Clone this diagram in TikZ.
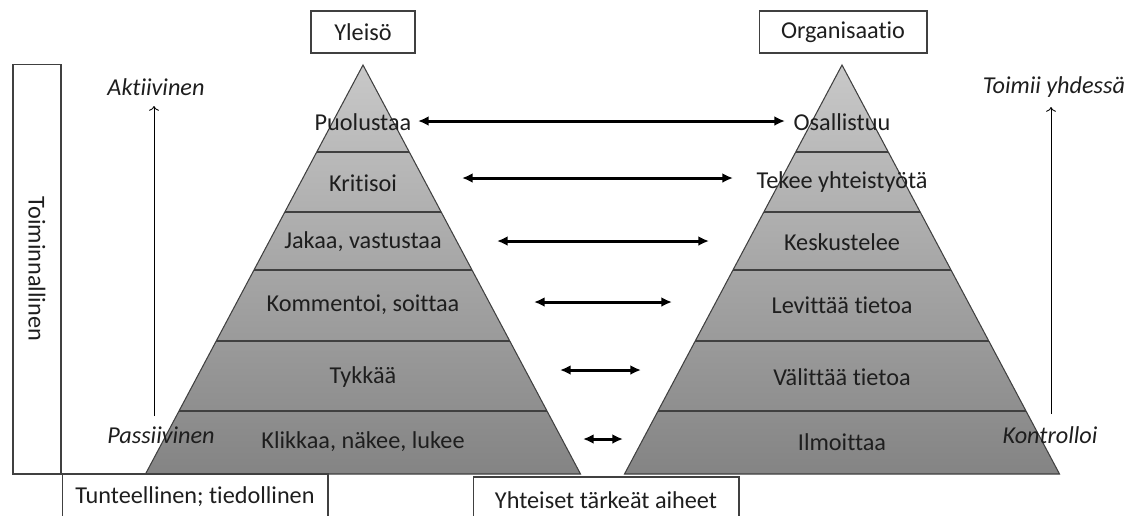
\documentclass[tikz,border=0pt]{standalone}
\usepackage{fontspec}
\setmainfont{Carlito}[RawFeature=-liga]
\usetikzlibrary{arrows.meta,calc}
\definecolor{pyrtop}{RGB}{200,200,200}
\definecolor{pyrbot}{RGB}{132,132,132}
\definecolor{edgegray}{RGB}{64,64,64}
\definecolor{txtgray}{RGB}{30,30,30}

\begin{document}
\begin{tikzpicture}[x=0.02cm,y=-0.02cm,
  lbl/.style={font=\fontsize{13.8}{16}\selectfont,text=txtgray},
  side/.style={text=txtgray,font=\fontsize{13.8}{16}\selectfont\itshape},
  box/.style={draw=edgegray,lbl,line width=0.6pt,inner sep=0pt},
  link/.style={{Latex[length=6pt,width=5.5pt]}-{Latex[length=6pt,width=5.5pt]},line width=1.7pt},
  rise/.style={->,line width=0.5pt}]
\useasboundingbox (0,0) rectangle (1131,515);
\clip (0,0) rectangle (1131,515);

% the two pyramids
\foreach \c/\p in {363/L,842/R}{
  \coordinate (\p-top) at (\c,65);
  \coordinate (\p-bl) at (\c-217.5,474);
  \coordinate (\p-br) at (\c+217.5,474);
  \shade[top color=pyrtop,bottom color=pyrbot] (\p-top) -- (\p-br) -- (\p-bl) -- cycle;
  \foreach \f in {0.2127,0.3594,0.5012,0.6748,0.8460}
    \draw[edgegray,line width=0.6pt] ($(\p-top)!\f!(\p-bl)$) -- ($(\p-top)!\f!(\p-br)$);
  \draw[edgegray,line width=0.6pt] (\p-top) -- (\p-br) -- (\p-bl) -- cycle;
}

% audience levels
\node[lbl] (L1) at (363,122) {Puolustaa};
\node[lbl] (L2) at (363,183) {Kritisoi};
\node[lbl] (L3) at (363,242) {Jakaa, vastustaa};
\node[lbl] (L4) at (363,305) {Kommentoi, soittaa};
\node[lbl] (L5) at (363,377) {Tykkää};
\node[lbl] (L6) at (363,442) {Klikkaa, näkee, lukee};

% organisation levels
\node[lbl] (R1) at (842,122) {Osallistuu};
\node[lbl] (R2) at (842,182) {Tekee yhteistyötä};
\node[lbl] (R3) at (842,242) {Keskustelee};
\node[lbl] (R4) at (842,305) {Levittää tietoa};
\node[lbl] (R5) at (842,377) {Välittää tietoa};
\node[lbl] (R6) at (842,442) {Ilmoittaa};

% two-way arrows
\foreach \i/\xa/\xb/\y in {1/418/785/121,2/462/733/178,3/497/709/241,4/534/672/302,5/560/641/370,6/583/623/439}{
  \coordinate (a\i w) at (\xa,\y);
  \coordinate (a\i e) at (\xb,\y);
  \draw[link] (a\i w) -- (a\i e);
}

% boxes
\node[box,minimum width=2.08cm,minimum height=0.84cm] (yleiso) at (363,32) {Yleisö};
\node[box,minimum width=3.36cm,minimum height=0.84cm] (org) at (843,32) {Organisaatio};
\node[box,rotate=-90,minimum width=8.2cm,minimum height=0.96cm] (toim) at (37,269) {Toiminnallinen};
\node[box,minimum width=5.32cm,minimum height=0.92cm] (tunt) at (195,497) {Tunteellinen; tiedollinen};
\node[box,minimum width=5.32cm,minimum height=0.92cm] (yht) at (606,500) {Yhteiset tärkeät aiheet};

% side scales
\node[side] (akt) at (156,87) {Aktiivinen};
\node[side] (pas) at (161,435) {Passiivinen};
\node[side] (toy) at (1054,87) {Toimii yhdessä};
\node[side] (kon) at (1050,435) {Kontrolloi};
\coordinate (ls) at (154,416);
\coordinate (le) at (154,106);
\coordinate (rs) at (1051,414);
\coordinate (re) at (1051,107);
\draw[rise] (ls) -- (le);
\draw[rise] (rs) -- (re);
\end{tikzpicture}
\end{document}
